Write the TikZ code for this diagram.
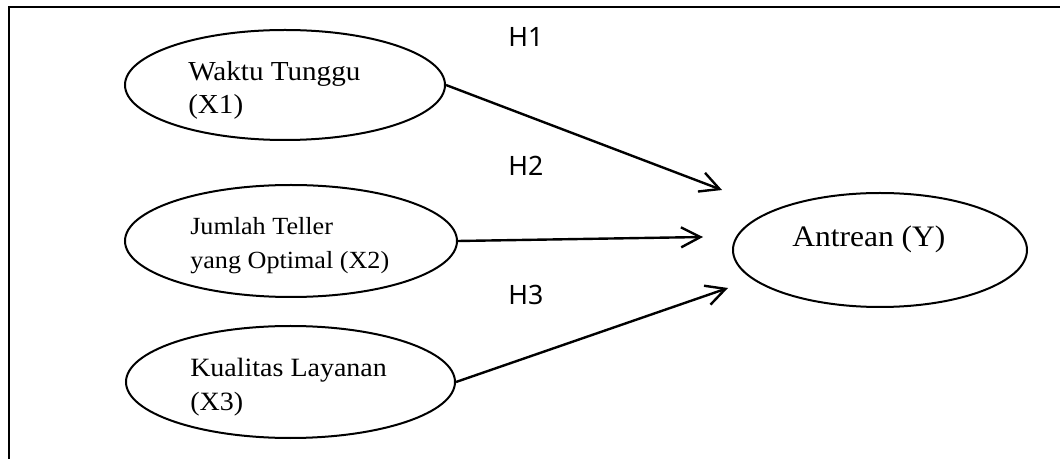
\documentclass[tikz,border=0pt]{standalone}
\usepackage{fontspec}
\setmainfont{Liberation Serif}
\newfontfamily\serifwide[FakeStretch=1.06]{Liberation Serif}
\newfontfamily\hsans{Noto Sans}
\usetikzlibrary{shapes.geometric,arrows.meta}
\tikzset{
  var/.style={draw, ellipse, line width=1.5pt, inner sep=0pt},
  vtext/.style={inner sep=0pt, align=left, anchor=west},
  link/.style={line width=1.8pt, -{Straight Barb[length=14.5pt,width=15pt,line width=1.8pt]}},
  hlab/.style={inner sep=0pt, anchor=base west, font=\hsans\fontsize{20}{24}\selectfont},
  frame/.style={line width=2pt}
}
\begin{document}
\begin{tikzpicture}[x=0.75pt,y=-0.75pt]
\useasboundingbox (0,0) rectangle (1060,459);
% frame
\coordinate (fb) at (9,462);
\coordinate (fc) at (9,7);
\coordinate (fr) at (1062,7);
\draw[frame] (fb) -- (fc) -- (fr);
% ellipses
\node[var, minimum width=240pt, minimum height=82.5pt] (e1) at (285,85) {};
\node[var, minimum width=249pt, minimum height=84pt] (e2) at (291,241) {};
\node[var, minimum width=246.75pt, minimum height=84pt] (e3) at (290.5,382) {};
\node[var, minimum width=220.5pt, minimum height=85.5pt] (ey) at (880,250) {};
% texts
\node[vtext, font=\serifwide\fontsize{20.6}{24.75}\selectfont] (t1) at (188,90) {Waktu Tunggu\\(X1)};
\node[vtext, font=\serifwide\fontsize{18.5}{25.5}\selectfont] (t2) at (190,245.5) {Jumlah Teller\\yang Optimal (X2)};
\node[vtext, font=\serifwide\fontsize{19.8}{25.5}\selectfont] (t3) at (190,387) {Kualitas Layanan\\(X3)};
\node[inner sep=0pt, anchor=base west, font=\serifwide\fontsize{22.3}{26}\selectfont] (ty) at (792,247) {Antrean (Y)};
% hypothesis labels
\node[hlab] (h1) at (508,47) {H1};
\node[hlab] (h2) at (508,176) {H2};
\node[hlab] (h3) at (508,305) {H3};
% arrow ends
\coordinate (p1) at (722,190);
\coordinate (p2) at (703,237);
\coordinate (p3) at (728,288);
\draw[link] (e1.east) -- (p1);
\draw[link] (e2.east) -- (p2);
\draw[link] (e3.east) -- (p3);
\end{tikzpicture}
\end{document}
